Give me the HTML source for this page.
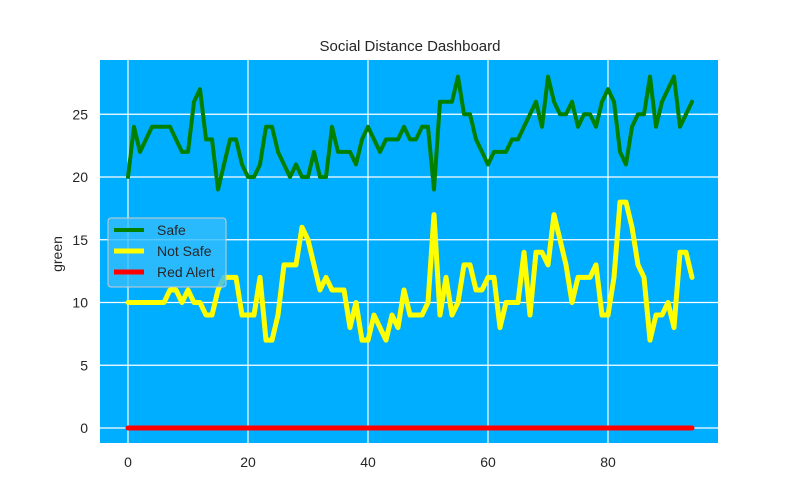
<!DOCTYPE html>
<html><head><meta charset="utf-8"><style>
body{margin:0;background:#fff;}
svg{display:block;font-family:"Liberation Sans",sans-serif;}
</style></head><body>
<svg id="chart" width="800" height="500" viewBox="0 0 800 500">
<rect x="0" y="0" width="800" height="500" fill="#fff"/>
<rect x="100" y="60" width="618" height="383" fill="#00aeff"/>
<g id="grid"></g>
<g id="series"></g>
<g id="ticks"></g>
<text x="410" y="51" text-anchor="middle" font-size="15" fill="#262626">Social Distance Dashboard</text>
<text transform="translate(62,254) rotate(-90)" text-anchor="middle" font-size="14" fill="#262626">green</text>
<g>
<rect x="108" y="218" width="118" height="69" rx="3" fill="#33bdfd" fill-opacity="0.8" stroke="#cccccc" stroke-width="1"/>
<line x1="114" y1="230" x2="144" y2="230" stroke="#008000" stroke-width="4"/>
<text x="157" y="235" font-size="14" fill="#262626">Safe</text>
<line x1="114" y1="251" x2="144" y2="251" stroke="#ffff00" stroke-width="5"/>
<text x="157" y="256" font-size="14" fill="#262626">Not Safe</text>
<line x1="114" y1="272" x2="144" y2="272" stroke="#ff0000" stroke-width="5"/>
<text x="157" y="277" font-size="14" fill="#262626">Red Alert</text>
</g>
</svg>
<script>
const safe=[20,24,22,23,24,24,24,24,23,22,22,26,27,23,23,19,21,23,23,21,20,20,21,24,24,22,21,20,21,20,20,22,20,20,24,22,22,22,21,23,24,23,22,23,23,23,24,23,23,24,24,19,26,26,26,28,25,25,23,22,21,22,22,22,23,23,24,25,26,24,28,26,25,25,26,24,25,25,24,26,27,26,22,21,24,25,25,28,24,26,27,28,24,25,26];
const notSafe=[10,10,10,10,10,10,10,11,11,10,11,10,10,9,9,11,12,12,12,9,9,9,12,7,7,9,13,13,13,16,15,13,11,12,11,11,11,8,10,7,7,9,8,7,9,8,11,9,9,9,10,17,9,12,9,10,13,13,11,11,12,12,8,10,10,10,14,9,14,14,13,17,15,13,10,12,12,12,13,9,9,12,18,18,16,13,12,7,9,9,10,8,14,14,12];
const redAlert=new Array(95).fill(0);
const xTicks=[0,20,40,60,80];
const yTicks=[0,5,10,15,20,25];
const X=v=>128+v*6.0;
const Y=v=>428-v*12.55;
const NS="http://www.w3.org/2000/svg";
const grid=document.getElementById('grid'),ticks=document.getElementById('ticks'),ser=document.getElementById('series');
function mk(tag,attrs,parent){const e=document.createElementNS(NS,tag);for(const k in attrs)e.setAttribute(k,attrs[k]);parent.appendChild(e);return e;}
xTicks.forEach(t=>{
 const l=mk('line',{x1:X(t),x2:X(t),y1:60,y2:443,stroke:'#fff','stroke-width':1.2},grid);
 
 
 const tx=mk('text',{x:X(t),y:467,'text-anchor':'middle','font-size':14,fill:'#262626'},ticks);
 tx.textContent=t;
 
 
});
yTicks.forEach(t=>{
 const l=mk('line',{x1:100,x2:718,y1:Y(t),y2:Y(t),stroke:'#fff','stroke-width':1.2},grid);
 
 
 const tx=mk('text',{x:88,y:Y(t)+5,'text-anchor':'end','font-size':14,fill:'#262626'},ticks);
 tx.textContent=t;
 
 
});
function line(data,color,w,name){
 const p=mk('polyline',{points:data.map((v,i)=>X(i)+','+Y(v)).join(' '),fill:'none',stroke:color,'stroke-width':w,'stroke-linejoin':'round','stroke-linecap':'round'},ser);
 
 
}
line(safe,'#008000',4,'safe-line');
line(notSafe,'#ffff00',5,'not-safe-line');
line(redAlert,'#ff0000',5,'red-alert-line');
</script>
</body></html>
